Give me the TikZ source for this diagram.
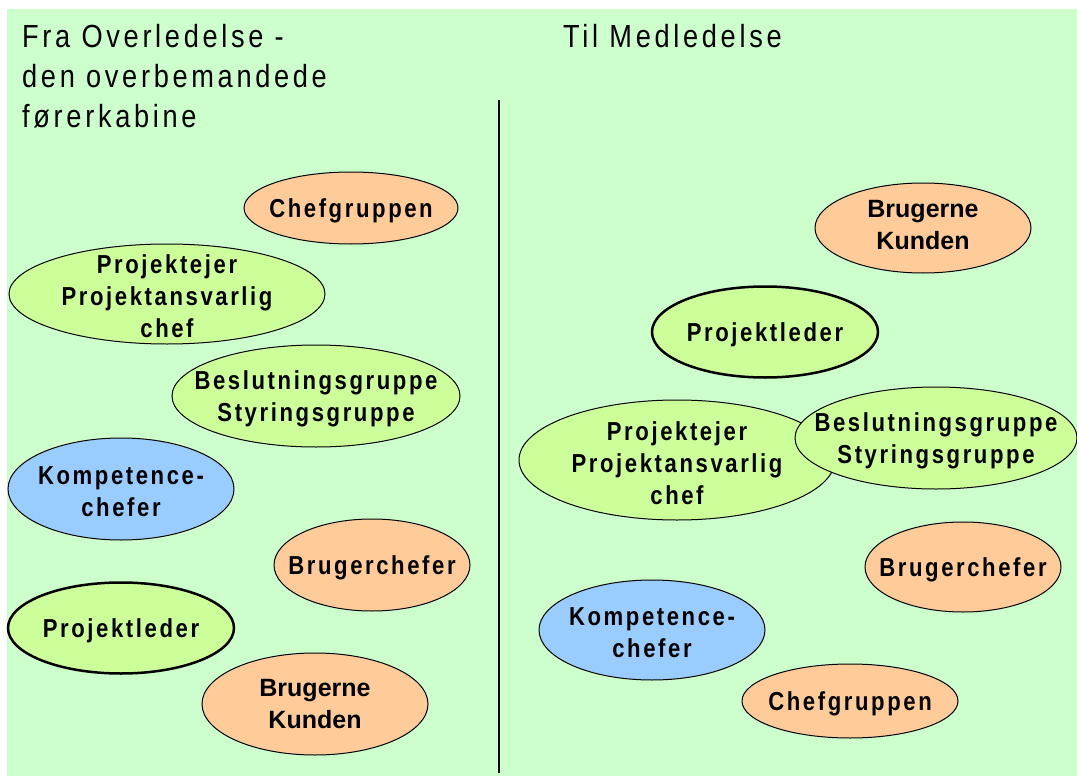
\documentclass[tikz,border=0pt]{standalone}
\usepackage{fontspec}
\setmainfont{Liberation Sans}
\newfontfamily\lblfont[FakeStretch=0.85,LetterSpace=10]{Liberation Sans}
\newfontfamily\ttlfont[FakeStretch=0.85,LetterSpace=11.5]{Liberation Sans}
\usetikzlibrary{shapes.geometric}
\definecolor{bg}{HTML}{CCFFCC}
\definecolor{org}{HTML}{FFCC99}
\definecolor{grn}{HTML}{CCFF99}
\definecolor{blu}{HTML}{99CCFF}
\begin{document}
\begin{tikzpicture}[x=1pt,y=-1pt,
  blob/.style={ellipse, draw=black, line width=1pt, inner sep=0pt},
  thickblob/.style={blob, line width=2.5pt},
  lbl/.style={font=\lblfont\bfseries\fontsize{26}{32}\selectfont, align=center, inner sep=0pt, yshift=-3pt},
  big/.style={font=\bfseries\fontsize{25}{32}\selectfont, align=center, inner sep=0pt},
  ttl/.style={font=\ttlfont\fontsize{32}{40}\selectfont, anchor=base west, inner sep=0pt}]
\useasboundingbox (0,0) rectangle (1077,776);
\fill[bg] (7,9) rectangle (1077,776);
% titles
\node[ttl] (t1) at (22,48) {Fra Overledelse -};
\node[ttl] (t2) at (22,88) {den overbemandede};
\node[ttl] (t3) at (22,128) {førerkabine};
\node[ttl] (t4) at (563,48) {Til Medledelse};
% divider
\coordinate (vt) at (499,100);
\coordinate (vb) at (499,773);
\draw[line width=2.5pt] (vt) -- (vb);
% left side
\node[blob, fill=org, minimum width=214, minimum height=72] (lcg) at (351,208) {};
\node[lbl] (lcgt) at (lcg) {Chefgruppen};
\node[blob, fill=grn, minimum width=316, minimum height=100] (lpe) at (167,294) {};
\node[lbl, yshift=1pt] (lpet) at (lpe) {Projektejer\\Projektansvarlig\\chef};
\node[blob, fill=grn, minimum width=288, minimum height=102] (lbs) at (316,396) {};
\node[lbl] (lbst) at (lbs) {Beslutningsgruppe\\Styringsgruppe};
\node[blob, fill=blu, minimum width=226, minimum height=102] (lkc) at (121,489) {};
\node[lbl] (lkct) at (lkc) {Kompetence-\\chefer};
\node[blob, fill=org, minimum width=196, minimum height=92] (lbc) at (372,565) {};
\node[lbl] (lbct) at (lbc) {Brugerchefer};
\node[thickblob, fill=grn, minimum width=226, minimum height=91] (lpl) at (121,628) {};
\node[lbl] (lplt) at (lpl) {Projektleder};
\node[blob, fill=org, minimum width=226, minimum height=102] (lbk) at (315,704) {};
\node[big] (lbkt) at (lbk) {Brugerne\\Kunden};
% right side
\node[blob, fill=org, minimum width=216, minimum height=90] (rbk) at (923,228) {};
\node[big, yshift=3pt] (rbkt) at (rbk) {Brugerne\\Kunden};
\node[thickblob, fill=grn, minimum width=226, minimum height=91] (rpl) at (765,332) {};
\node[lbl] (rplt) at (rpl) {Projektleder};
\node[blob, fill=grn, minimum width=316, minimum height=120] (rpe) at (677,460) {};
\node[lbl] (rpet) at (rpe) {Projektejer\\Projektansvarlig\\chef};
\node[blob, fill=grn, minimum width=282, minimum height=102] (rbs) at (936,438) {};
\node[lbl] (rbst) at (rbs) {Beslutningsgruppe\\Styringsgruppe};
\node[blob, fill=org, minimum width=196, minimum height=90] (rbc) at (963,567) {};
\node[lbl] (rbct) at (rbc) {Brugerchefer};
\node[blob, fill=blu, minimum width=226, minimum height=100] (rkc) at (652,630) {};
\node[lbl] (rkct) at (rkc) {Kompetence-\\chefer};
\node[blob, fill=org, minimum width=216, minimum height=74] (rcg) at (850,701) {};
\node[lbl] (rcgt) at (rcg) {Chefgruppen};
\end{tikzpicture}
\end{document}
